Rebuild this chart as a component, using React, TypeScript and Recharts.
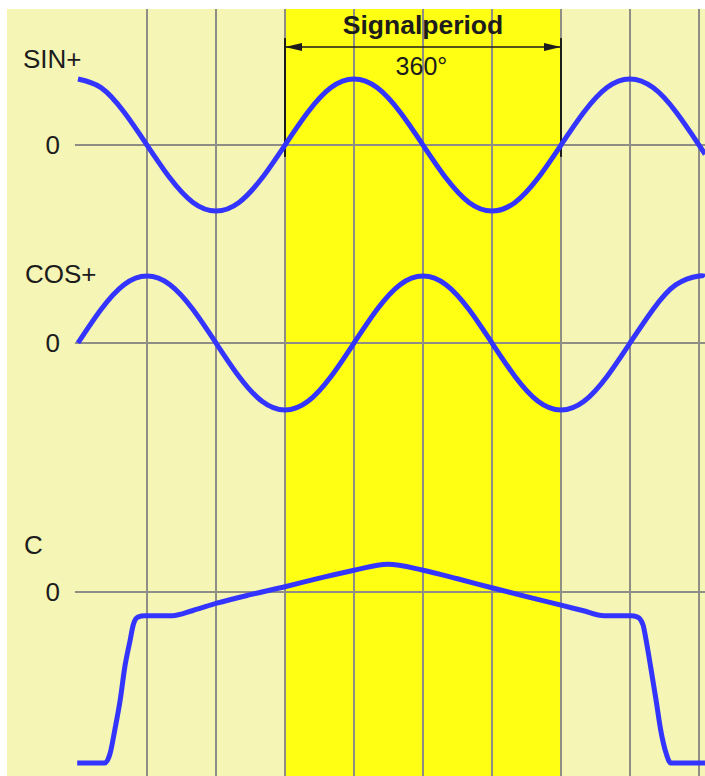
import {
  ComposedChart,
  Line,
  ReferenceArea,
  ReferenceDot,
  ReferenceLine,
  XAxis,
  YAxis,
} from "recharts";

// phase in degrees, one signal period = 360°
const phaseDeg = [
  -270, -240, -210, -180, -150, -120, -90, -60, -30, 0, 30, 60, 90, 120, 150,
  180, 210, 240, 270, 300, 330, 360, 390, 420, 450, 480, 510, 540, 548,
];
const sinValues = [
  1, 0.87, 0.5, 0, -0.5, -0.87, -1, -0.87, -0.5, 0, 0.5, 0.87, 1, 0.87, 0.5,
  0, -0.5, -0.87, -1, -0.87, -0.5, 0, 0.5, 0.87, 1, 0.87, 0.5, 0, -0.14,
];
const cosValues = [
  0, 0.5, 0.87, 1, 0.87, 0.5, 0, -0.5, -0.87, -1, -0.87, -0.5, 0, 0.5, 0.87,
  1, 0.87, 0.5, 0, -0.5, -0.87, -1, -0.87, -0.5, 0, 0.5, 0.87, 1, 0.99,
];

const cPhaseDeg = [
  -271, -235, -228, -222, -215, -209, -202, -198, -192, -183, -147, -120, -89,
  -45, 0, 45, 90, 134, 180, 225, 271, 315, 360, 388, 416, 451, 460, 467, 471,
  477, 484, 490, 497, 503, 548,
];
const cValues = [
  -2.59, -2.59, -2.44, -2.09, -1.64, -1.14, -0.73, -0.5, -0.38, -0.36, -0.36,
  -0.28, -0.17, -0.04, 0.08, 0.21, 0.33, 0.42, 0.33, 0.2, 0.06, -0.07, -0.2,
  -0.28, -0.36, -0.36, -0.38, -0.5, -0.73, -1.14, -1.64, -2.09, -2.44, -2.59,
  -2.59,
];

const gridDeg = [-180, -90, 0, 90, 180, 270, 360, 450, 540];

const signalRows = phaseDeg.map((phase, i) => ({
  phase,
  sin: sinValues[i],
  cos: cosValues[i],
}));
const cRows = cPhaseDeg.map((phase, i) => ({ phase, c: cValues[i] }));

const X_MIN = -362.6;
const X_MAX = 547.8;
const ZERO_START = -274;

const PALE = "#f5f5b5";
const YELLOW = "#ffff14";
const GRID = "#8e8e86";
const BLUE = "#3434ff";
const INK = "#1c1c1c";
const FONT = "'Liberation Sans', Arial, sans-serif";

function PeriodArrow(props: any) {
  const { x1, y1, x2, y2 } = props;
  return (
    <g>
      <line x1={x1} y1={y1} x2={x2} y2={y2} stroke={INK} strokeWidth={1.6} />
      <polygon
        points={`${x1},${y1} ${x1 + 17},${y1 - 4} ${x1 + 17},${y1 + 4}`}
        fill={INK}
      />
      <polygon
        points={`${x2},${y2} ${x2 - 17},${y2 - 4} ${x2 - 17},${y2 + 4}`}
        fill={INK}
      />
    </g>
  );
}

const textStyle = { fontSize: 26, fill: INK, fontFamily: FONT };

export default function App() {
  return (
    <div
      style={{
        position: "absolute",
        left: 7,
        top: 9,
        width: 698,
        height: 767,
        background: PALE,
        fontFamily: FONT,
      }}
    >
      <ComposedChart
        width={698}
        height={767}
        data={signalRows}
        margin={{ top: 0, right: 0, bottom: 0, left: 0 }}
      >
        <XAxis
          dataKey="phase"
          type="number"
          domain={[X_MIN, X_MAX]}
          allowDataOverflow
          hide
        />
        <YAxis yAxisId="sin" type="number" domain={[-9.561, 2.061]} allowDataOverflow hide />
        <YAxis yAxisId="cos" type="number" domain={[-6.463, 4.985]} allowDataOverflow hide />
        <YAxis yAxisId="c" type="number" domain={[-2.788, 8.833]} allowDataOverflow hide />

        <ReferenceArea
          yAxisId="sin"
          x1={0}
          x2={360}
          fill={YELLOW}
          fillOpacity={1}
          stroke="none"
        />

        {gridDeg.map((d) => (
          <ReferenceLine key={d} yAxisId="sin" x={d} stroke={GRID} strokeWidth={2} />
        ))}

        <ReferenceLine
          yAxisId="sin"
          segment={[{ x: ZERO_START, y: 0 }, { x: X_MAX, y: 0 }]}
          stroke={GRID}
          strokeWidth={2}
          ifOverflow="visible"
          label={{ value: "0", position: "left", offset: 15, ...textStyle }}
        />
        <ReferenceLine
          yAxisId="cos"
          segment={[{ x: ZERO_START, y: 0 }, { x: X_MAX, y: 0 }]}
          stroke={GRID}
          strokeWidth={2}
          ifOverflow="visible"
          label={{ value: "0", position: "left", offset: 15, ...textStyle }}
        />
        <ReferenceLine
          yAxisId="c"
          segment={[{ x: ZERO_START, y: 0 }, { x: X_MAX, y: 0 }]}
          stroke={GRID}
          strokeWidth={2}
          ifOverflow="visible"
          label={{ value: "0", position: "left", offset: 15, ...textStyle }}
        />

        {/* signal period markers */}
        <ReferenceLine
          yAxisId="sin"
          segment={[{ x: 0, y: 1.62 }, { x: 0, y: -0.18 }]}
          stroke={INK}
          strokeWidth={2}
        />
        <ReferenceLine
          yAxisId="sin"
          segment={[{ x: 360, y: 1.62 }, { x: 360, y: -0.18 }]}
          stroke={INK}
          strokeWidth={2}
        />
        <ReferenceLine
          yAxisId="sin"
          segment={[{ x: 0, y: 1.485 }, { x: 360, y: 1.485 }]}
          shape={PeriodArrow}
          label={{
            value: "Signalperiod",
            position: "top",
            offset: 13,
            fontWeight: "bold",
            ...textStyle,
            fontSize: 26.5,
          }}
        />
        <ReferenceDot
          yAxisId="sin"
          x={178}
          y={1.197}
          r={0}
          fill="none"
          stroke="none"
          label={{ value: "360°", position: "center", ...textStyle, fontSize: 25 }}
        />

        <Line
          yAxisId="sin"
          dataKey="sin"
          type="natural"
          stroke={BLUE}
          strokeWidth={5}
          dot={false}
          activeDot={false}
          isAnimationActive={false}
        />
        <Line
          yAxisId="cos"
          dataKey="cos"
          type="natural"
          stroke={BLUE}
          strokeWidth={5}
          dot={false}
          activeDot={false}
          isAnimationActive={false}
        />
        <Line
          yAxisId="c"
          data={cRows}
          dataKey="c"
          type="monotone"
          stroke={BLUE}
          strokeWidth={5}
          dot={false}
          activeDot={false}
          isAnimationActive={false}
        />

        {/* series names */}
        <ReferenceDot
          yAxisId="sin"
          x={-341.7}
          y={1.31}
          r={0}
          fill="none"
          stroke="none"
          label={{ value: "SIN+", position: "right", offset: 0, ...textStyle }}
        />
        <ReferenceDot
          yAxisId="cos"
          x={-339.1}
          y={1.03}
          r={0}
          fill="none"
          stroke="none"
          label={{ value: "COS+", position: "right", offset: 0, ...textStyle }}
        />
        <ReferenceDot
          yAxisId="c"
          x={-340.4}
          y={0.71}
          r={0}
          fill="none"
          stroke="none"
          label={{ value: "C", position: "right", offset: 0, ...textStyle }}
        />
      </ComposedChart>
    </div>
  );
}
